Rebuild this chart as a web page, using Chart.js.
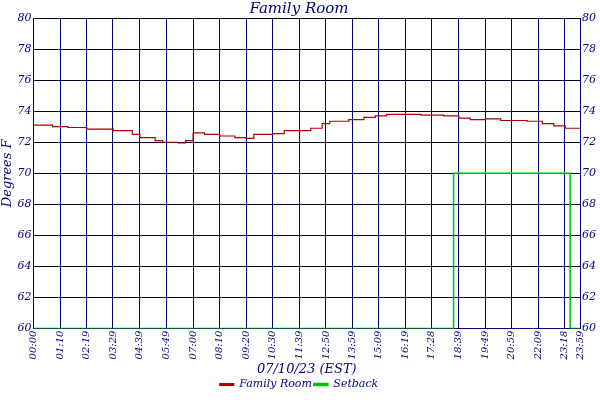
<!DOCTYPE html>
<html><head><script src="https://cdn.jsdelivr.net/npm/chart.js@4"></script>
<style>body{margin:0;background:#fff}#w{width:600px;height:400px}</style></head>
<body><div id="w"><canvas id="c"></canvas></div>
<script>
const tickMinutes=[0,70,139,209,279,349,420,490,560,630,699,770,839,909,979,1048,1119,1189,1259,1329,1398,1439];
const tickLabels=["00:00","01:10","02:19","03:29","04:39","05:49","07:00","08:10","09:20","10:30","11:39","12:50","13:59","15:09","16:19","17:28","18:39","19:49","20:59","22:09","23:18","23:59"];
const roomMinutes=[0,50,90,140,210,260,280,320,340,380,400,420,450,490,530,560,580,630,660,700,730,760,780,830,870,900,930,979,1020,1080,1120,1150,1190,1230,1300,1340,1370,1400,1439];
const roomTemps=[73.1,73.0,72.95,72.85,72.75,72.5,72.3,72.1,72.0,71.95,72.1,72.6,72.5,72.4,72.3,72.25,72.5,72.55,72.75,72.75,72.9,73.2,73.35,73.45,73.6,73.7,73.8,73.8,73.75,73.7,73.55,73.45,73.5,73.4,73.35,73.2,73.05,72.9,72.85];
const setMinutes=[0,1106,1413,1439];
const setTemps=[60,70,60,60];
const navy='#000080', f={family:'DejaVu Serif',style:'italic',size:11};
new Chart(document.getElementById('c'),{type:'line',
data:{datasets:[
{label:'Family Room',data:roomMinutes.map((m,i)=>({x:m,y:roomTemps[i]})),borderColor:'#b00000',backgroundColor:'#b00000',stepped:true,pointRadius:0,borderWidth:1.2},
{label:'Setback',data:setMinutes.map((m,i)=>({x:m,y:setTemps[i]})),borderColor:'#00c000',backgroundColor:'#00c000',stepped:true,pointRadius:0,borderWidth:1.5}
]},
options:{responsive:true,maintainAspectRatio:false,animation:false,
layout:{padding:{left:0,right:2,top:0,bottom:0}},
plugins:{title:{display:true,text:'Family Room',color:navy,font:{family:'DejaVu Serif',style:'italic',weight:'normal',size:15},padding:{top:0,bottom:0}},
legend:{position:'bottom',labels:{color:navy,font:f,boxWidth:14,boxHeight:2,padding:2}},tooltip:{enabled:false}},
scales:{
x:{type:'linear',min:0,max:1439,afterBuildTicks:a=>{a.ticks=tickMinutes.map(v=>({value:v}));},
ticks:{autoSkip:false,minRotation:90,maxRotation:90,color:navy,font:{...f,size:10},padding:2,callback:(v)=>tickLabels[tickMinutes.indexOf(v)]},
grid:{color:navy,drawTicks:false},border:{color:navy},
title:{display:true,text:'07/10/23 (EST)',color:navy,font:{family:'DejaVu Serif',style:'italic',size:13},padding:{top:0,bottom:0}}},
y:{min:60,max:80,ticks:{stepSize:2,color:navy,font:f,padding:2},grid:{color:'#000030',drawTicks:false},border:{color:navy},
title:{display:true,text:'Degrees F',color:navy,font:{family:'DejaVu Serif',style:'italic',size:13},padding:0}},
y2:{position:'right',min:60,max:80,ticks:{stepSize:2,color:navy,font:f,padding:2},grid:{display:false,drawTicks:false},border:{color:navy}}
}}});
</script></body></html>
